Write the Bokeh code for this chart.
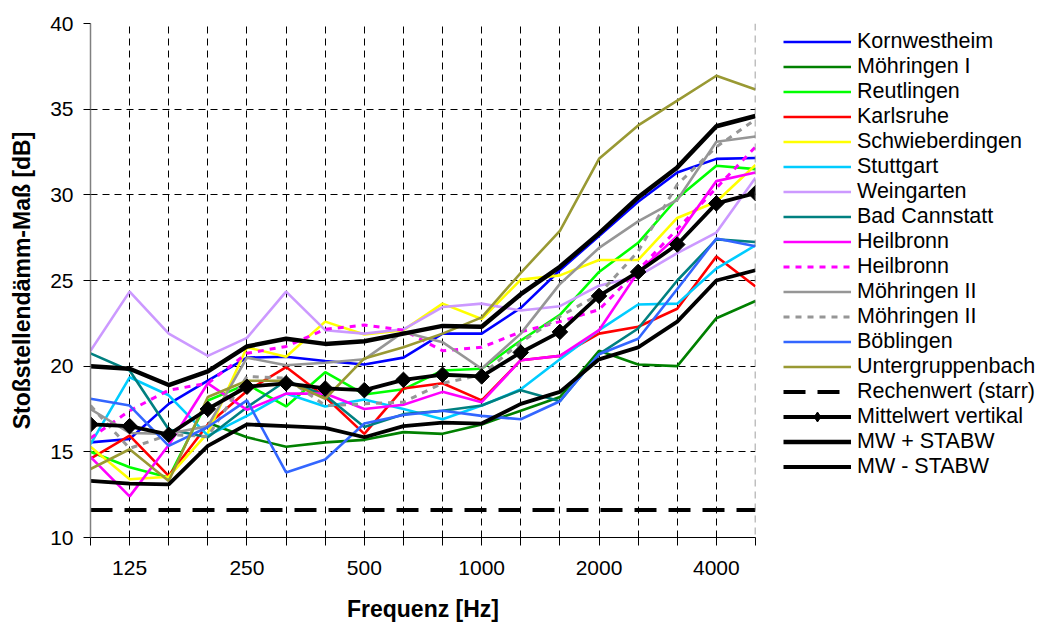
import math
from bokeh.plotting import figure
from bokeh.layouts import row
from bokeh.models import Range1d, FixedTicker, Legend, LegendItem, Span
from bokeh.embed import file_html
from bokeh.resources import INLINE

NaN = float("nan")

# Terzband-Mittenfrequenzen [Hz]
freqs = ["100", "125", "160", "200", "250", "315", "400", "500", "630", "800",
         "1000", "1250", "1600", "2000", "2500", "3150", "4000", "5000"]
shown_labels = ["125", "250", "500", "1000", "2000", "4000"]
y_ticks = [10, 15, 20, 25, 30, 35, 40]

kornwestheim = [15.55, 15.75, 17.8, 19.15, 20.5, 20.55, 20.3, 20.1, 20.5, 21.9, 21.9, 23.4, 25.6, 27.6, 29.6, 31.3, 32.1, 32.15]
moehringen_1 = [NaN, NaN, NaN, 16.7, 15.85, 15.3, 15.55, 15.7, 16.15, 16.05, 16.6, 17.4, 18.2, 20.9, 20.1, 20.0, 22.8, 23.8]
reutlingen = [15.0, 14.1, 13.5, 18.0, 18.95, 17.65, 19.65, 18.35, 18.65, 19.75, 19.85, 21.5, 23.0, 25.5, 27.2, 29.8, 31.7, 31.5]
karlsruhe = [14.6, 15.95, 13.6, 16.6, 18.55, 19.95, 18.2, 16.05, 18.7, 19.0, 18.0, 20.35, 20.6, 21.9, 22.3, 23.35, 26.4, 24.65]
schwieberdingen = [15.3, 13.4, 13.55, 16.1, 21.1, 20.55, 22.6, 21.85, 22.1, 23.65, 22.75, 25.05, 25.3, 26.2, 26.2, 28.65, 29.6, 31.75]
stuttgart = [15.45, 19.35, 18.3, 15.95, 17.1, 18.4, 17.65, 18.05, 17.5, 16.9, 17.7, 18.65, 20.4, 22.1, 23.6, 23.65, 25.7, 27.05]
weingarten = [20.9, 24.35, 21.9, 20.6, 21.65, 24.35, 22.1, 21.9, 22.15, 23.45, 23.65, 23.25, 23.5, 24.7, 25.25, 26.6, 27.8, 31.0]
bad_cannstatt = [20.75, 19.75, 16.3, 15.85, 17.6, 19.15, 18.3, 16.45, 17.2, 17.4, 17.7, 18.6, 17.95, 20.7, 22.2, 25.0, 27.4, 27.25]
heilbronn = [14.7, 12.4, 15.4, 19.0, 17.45, 18.4, 18.4, 17.5, 17.75, 18.5, 17.9, 20.35, 20.6, 22.1, 25.5, 27.6, 30.8, 31.3]
heilbronn_2 = [15.8, 17.4, 18.6, 19.0, 20.75, 21.15, 22.15, 22.4, 22.1, 20.9, 21.1, 22.0, 22.6, 23.3, 25.6, 28.0, 30.4, 32.8]
moehringen_2 = [17.5, 16.1, 16.05, 16.5, 20.5, 20.05, 20.2, 20.4, 22.0, 21.4, 19.85, 21.9, 24.8, 26.9, 28.45, 29.7, 33.1, 33.4]
moehringen_2b = [17.7, 15.2, 16.0, 15.9, 19.4, 19.3, 17.7, 17.8, 17.9, 19.0, 19.5, 21.4, 22.9, 24.2, 26.7, 30.6, 32.8, 34.4]
boeblingen = [18.1, 17.7, 15.35, 16.45, 18.0, 13.8, 14.55, 16.65, 17.15, 17.4, 17.1, 16.9, 17.95, 20.7, 21.6, 24.5, 27.45, 27.0]
untergruppenbach = [14.0, 15.15, 13.3, 18.2, 19.15, 19.15, 18.1, 20.45, 21.1, 21.9, 22.85, 25.45, 27.9, 32.1, 34.05, 35.5, 36.95, 36.15]
rechenwert = [11.6] * 18
mittelwert = [16.6, 16.5, 16.0, 17.5, 18.8, 19.0, 18.7, 18.6, 19.2, 19.5, 19.4, 20.8, 22.0, 24.1, 25.5, 27.1, 29.5, 30.1]
mw_plus = [20.0, 19.85, 18.9, 19.7, 21.15, 21.6, 21.3, 21.45, 21.9, 22.35, 22.3, 24.2, 25.8, 27.75, 29.85, 31.6, 34.0, 34.6]
mw_minus = [13.3, 13.15, 13.1, 15.35, 16.6, 16.5, 16.4, 15.85, 16.5, 16.7, 16.65, 17.8, 18.5, 20.4, 21.1, 22.6, 25.0, 25.6]

series = [
    ("Kornwestheim", kornwestheim, "#0000FF", "solid", 2.6),
    ("Möhringen I", moehringen_1, "#008000", "solid", 2.6),
    ("Reutlingen", reutlingen, "#00FF00", "solid", 2.6),
    ("Karlsruhe", karlsruhe, "#FF0000", "solid", 2.6),
    ("Schwieberdingen", schwieberdingen, "#FFFF00", "solid", 2.6),
    ("Stuttgart", stuttgart, "#00CCFF", "solid", 2.6),
    ("Weingarten", weingarten, "#CC99FF", "solid", 2.6),
    ("Bad Cannstatt", bad_cannstatt, "#008080", "solid", 2.6),
    ("Heilbronn", heilbronn, "#FF00FF", "solid", 2.6),
    ("Heilbronn", heilbronn_2, "#FF00FF", "6 6", 3),
    ("Möhringen II", moehringen_2, "#969696", "solid", 2.6),
    ("Möhringen II", moehringen_2b, "#969696", "6 6", 3),
    ("Böblingen", boeblingen, "#3366FF", "solid", 2.6),
    ("Untergruppenbach", untergruppenbach, "#999933", "solid", 2.6),
]

x = list(range(len(freqs)))
FONT = "Liberation Sans"

p = figure(width=783, height=624, output_backend="svg", toolbar_location=None,
           x_range=Range1d(0, len(freqs) - 1), y_range=Range1d(10, 40),
           min_border_left=90, min_border_right=28, min_border_top=23, min_border_bottom=87)
p.outline_line_color = None
p.background_fill_color = "white"
p.border_fill_color = "white"

# axes
p.xaxis.ticker = FixedTicker(ticks=x)
p.xaxis.major_label_overrides = {i: (f if f in shown_labels else "") for i, f in enumerate(freqs)}
p.yaxis.ticker = FixedTicker(ticks=y_ticks)
for ax in (p.xaxis[0], p.yaxis[0]):
    ax.major_label_text_font = FONT
    ax.major_label_text_font_size = "21px"
    ax.major_label_text_color = "black"
    ax.axis_label_text_font = FONT
    ax.axis_label_text_font_size = "23px"
    ax.axis_label_text_font_style = "bold"
    ax.axis_label_text_color = "black"
    ax.major_tick_in = 0
    ax.minor_tick_line_color = None
    ax.major_tick_line_color = "black"
p.xaxis.major_tick_out = 8
p.yaxis.major_tick_out = 7
p.xaxis.axis_line_color = "black"
p.yaxis.axis_line_color = "#808080"
p.yaxis.axis_line_width = 1.5
p.xaxis.major_label_standoff = 15
p.yaxis.major_label_standoff = 10
p.xaxis.axis_label = "Frequenz [Hz]"
p.yaxis.axis_label = "Stoßstellendämm-Maß [dB]"
p.xaxis.axis_label_standoff = 18
p.yaxis.axis_label_standoff = 12

# grid
p.xgrid.ticker = FixedTicker(ticks=x[1:-1])
p.ygrid.ticker = FixedTicker(ticks=y_ticks[1:])
for g in (p.xgrid[0], p.ygrid[0]):
    g.grid_line_color = "black"
    g.grid_line_dash = "7 5"
    g.grid_line_width = 1
p.add_layout(Span(location=len(freqs) - 1, dimension="height", line_color="#808080",
                  line_dash="7 5", line_width=1.5))

# legend panel (separate figure on the right, same data, drawn out of view)
lg = figure(width=268, height=624, output_backend="svg", toolbar_location=None,
            x_range=Range1d(-100, -99), y_range=Range1d(-100, -99),
            x_axis_type=None, y_axis_type=None,
            min_border_left=0, min_border_right=0, min_border_top=0, min_border_bottom=0)
lg.outline_line_color = None
lg.background_fill_color = "white"
lg.border_fill_color = "white"

items = []


def add_line(vals, **kw):
    p.line(x, vals, **kw)
    return lg.line(x, vals, **kw)


for name, vals, color, dash, lw in series:
    r = add_line(vals, line_color=color, line_width=lw, line_dash=dash)
    items.append(LegendItem(label=name, renderers=[r]))

r_rw = add_line(rechenwert, line_color="black", line_width=4, line_dash="22 12")
items.append(LegendItem(label="Rechenwert (starr)", renderers=[r_rw]))

r_up = add_line(mw_plus, line_color="black", line_width=4.5)
r_lo = add_line(mw_minus, line_color="black", line_width=3.8)
r_mw = add_line(mittelwert, line_color="black", line_width=3.8)
p.scatter(x, mittelwert, marker="square", angle=math.pi / 4, size=11,
          fill_color="black", line_color="black")
r_mk = lg.scatter(x, mittelwert, marker="diamond", size=16,
                  fill_color="black", line_color="black")
items.append(LegendItem(label="Mittelwert vertikal", renderers=[r_mw, r_mk]))
items.append(LegendItem(label="MW + STABW", renderers=[r_up]))
items.append(LegendItem(label="MW - STABW", renderers=[r_lo]))

legend = Legend(items=items, location=(0, 58), orientation="vertical",
                label_text_font=FONT, label_text_font_size="21.5px", label_text_color="black",
                glyph_width=68, glyph_height=25, label_height=20, label_standoff=6,
                spacing=0, padding=0, margin=0, border_line_color=None,
                background_fill_alpha=0)
lg.add_layout(legend, "center")

layout = row(p, lg, spacing=0)
open("out.html", "w").write(file_html(layout, INLINE))
